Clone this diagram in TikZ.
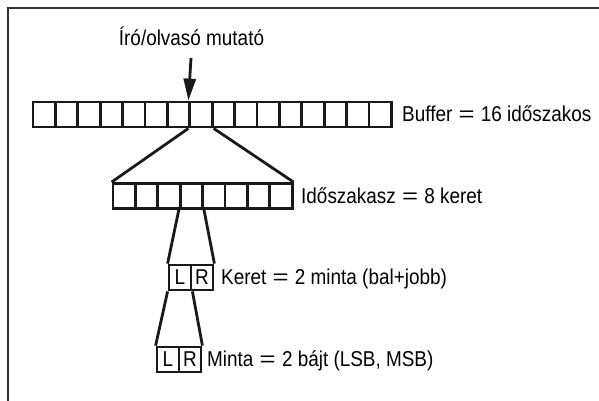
\documentclass[tikz,border=0pt]{standalone}
\usepackage{fontspec}
\usepackage{graphicx}
\setmainfont{Liberation Sans}[FakeStretch=0.88]
\usetikzlibrary{arrows.meta}
% a wider equals sign, as set in the labels
\newcommand{\wideeq}{\kern1pt\scalebox{1.45}[1]{=}\kern1pt}
\begin{document}
\begin{tikzpicture}[x=1pt,y=-1pt,
    cell/.style={draw=black!90,line width=2.8pt,inner sep=0pt,minimum width=22.4pt,minimum height=25pt,
                 font=\fontsize{21.5}{24}\selectfont},
    smallcell/.style={cell,minimum width=22pt},
    lbl/.style={anchor=base west,inner sep=0pt,font=\fontsize{21.5}{24}\selectfont},
    link/.style={draw=black!90,line width=2.8pt},
    frameline/.style={draw=black!80,line width=2.2pt}]
  \useasboundingbox (0,0) rectangle (599,401);
  % open frame: top and left edges only
  \coordinate (fr) at (599,8);
  \coordinate (fc) at (8,8);
  \coordinate (fb) at (8,401);
  \draw[frameline] (fr) -- (fc) -- (fb);

  % buffer: 16 periods
  \foreach \i in {1,...,16}
    \node[cell] (b\i) at ({33+22.4*(\i-0.5)},114.5) {};
  \node[lbl] (tb) at (402,121.7) {Buffer \wideeq{} 16 időszakos};

  % one period: 8 frames
  \foreach \i in {1,...,8}
    \node[cell] (p\i) at ({113+22.4*(\i-0.5)},196) {};
  \node[lbl] (tp) at (301,203.3) {Időszakasz \wideeq{} 8 keret};

  % one frame: left and right samples
  \node[smallcell] (f1) at (180,277.5) {L};
  \node[smallcell] (f2) at (202,277.5) {R};
  \node[lbl] (tf) at (221,284.6) {Keret \wideeq{} 2 minta (bal+jobb)};

  % one sample: two bytes
  \node[smallcell] (s1) at (168,359.5) {L};
  \node[smallcell] (s2) at (190,359.5) {R};
  \node[lbl] (ts) at (207,366.6) {Minta \wideeq{} 2 bájt (LSB, MSB)};

  % read/write pointer
  \node[anchor=base,inner sep=0pt,font=\fontsize{21.5}{24}\selectfont] (ptrlbl) at (191.5,46) {Író/olvasó mutató};
  \coordinate (ptr) at (191,58);
  \draw[link,-{Triangle[length=22pt,width=12pt]}] (ptr) -- (b8.north west);

  % expansion lines
  \draw[link] (b8.south west) -- (p1.north west);
  \draw[link] (b8.south east) -- (p8.north east);
  \draw[link] (p4.south west) -- (f1.north west);
  \draw[link] (p4.south east) -- (f2.north east);
  \draw[link] (f1.south west) -- (s1.north west);
  \draw[link] (f1.south east) -- (s2.north east);
\end{tikzpicture}
\end{document}
